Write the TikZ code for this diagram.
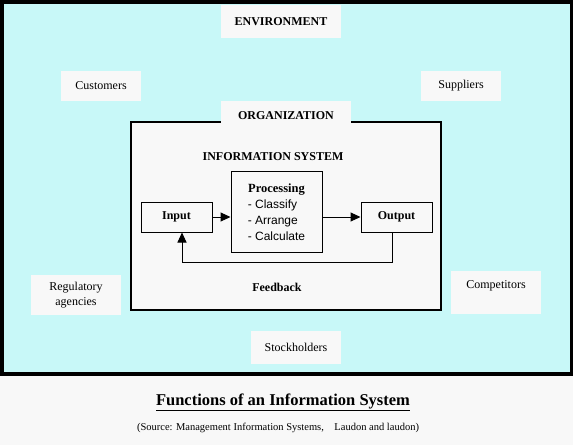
\documentclass[tikz,border=0pt]{standalone}
\usepackage{fontspec}
\setmainfont{Liberation Serif}
\newfontfamily\listfont{Liberation Sans}
\usetikzlibrary{arrows.meta}
\definecolor{envcyan}{HTML}{C8F8F8}
\definecolor{paper}{HTML}{F8F8F8}
\tikzset{
  envbox/.style={fill=paper, inner sep=0pt, minimum width=80pt, minimum height=30pt,
    align=center, font=\fontsize{12}{15}\selectfont},
  stage/.style={draw, line width=1pt, fill=paper, inner sep=0pt, minimum height=30pt,
    font=\fontsize{12}{15}\selectfont\bfseries},
  heading/.style={font=\fontsize{12}{15}\selectfont\bfseries},
  flow/.style={line width=1pt, -{Triangle[length=10pt,width=9pt]}}
}
\begin{document}
\begin{tikzpicture}[x=1pt,y=-1pt]
  \useasboundingbox (0,0) rectangle (573,445);
  \fill[paper] (0,0) rectangle (573,445);
  % Environment
  \draw[line width=3.5pt, fill=envcyan] (1.75,1.75) rectangle (571.25,374);
  \node[envbox, heading, minimum width=120pt, minimum height=33pt] (env) at (281,21.5) {ENVIRONMENT};
  \node[envbox] (customers) at (101,86) {Customers};
  \node[envbox] (suppliers) at (461,86) {Suppliers};
  \node[envbox, minimum width=90pt, minimum height=40pt] (regulators) at (76,295) {Regulatory\\agencies};
  \node[envbox, minimum width=90pt, minimum height=43pt] (competitors) at (496,292.5) {Competitors\\\mbox{}};
  \node[envbox, minimum width=90pt, minimum height=33pt] (stockholders) at (296,347.5) {Stockholders};
  % Organization
  \draw[line width=2pt, fill=paper] (131,122) rectangle (441,310);
  \node[envbox, heading, minimum width=130pt, minimum height=30pt] (org) at (286,116) {ORGANIZATION};
  % Information system
  \node[heading] (infosys) at (273,157) {INFORMATION SYSTEM};
  \node[stage, minimum width=71pt] (input) at (176.5,217) {Input};
  \node[stage, minimum width=91pt, minimum height=81pt, font=\fontsize{12.5}{16}\selectfont, align=center]
    (process) at (276.5,211.5)
    {\rule{0pt}{15pt}\textbf{Processing}\\\listfont\fontsize{12}{16}\selectfont
     \begin{tabular}[t]{@{}l@{}}- Classify\\- Arrange\\- Calculate\end{tabular}\hspace{8pt}};
  \node[stage, minimum width=71pt] (output) at (396.5,217) {Output};
  \draw[flow] (input.east) -- (input.east -| process.west);
  \draw[flow] (process.east |- output.west) -- (output.west);
  % Feedback
  \coordinate (fbout) at (392,262);
  \coordinate (fbin) at (182,262);
  \draw[flow] (output.south -| fbout) -- (fbout) -- (fbin) -- (input.south -| fbin);
  \node[heading] (feedback) at (277,287) {Feedback};
  % Caption
  \node[font=\fontsize{16.5}{20}\selectfont\bfseries] (title) at (283,402)
    {\underline{Functions of an Information System}};
  \node[font=\fontsize{10.5}{12}\selectfont] (source) at (278,428)
    {(Source: Management Information Systems,\quad Laudon and laudon)};
\end{tikzpicture}
\end{document}
